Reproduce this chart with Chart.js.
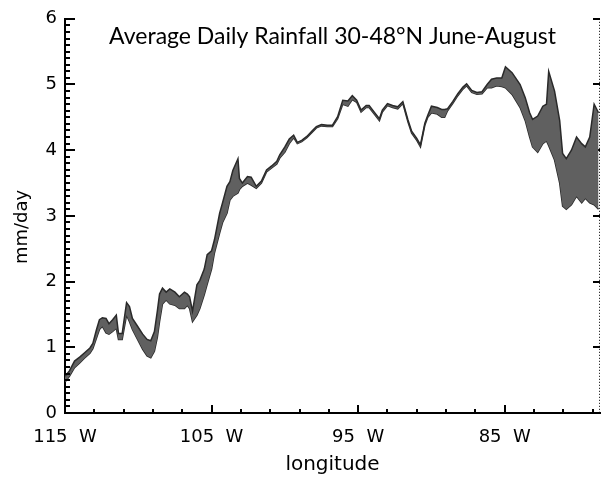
<!DOCTYPE html>
<html lang="en">
<head>
    <meta charset="UTF-8">
    <title>Average Daily Rainfall</title>
    <script src="https://cdn.jsdelivr.net/npm/chart.js"></script>
    <style>
        body {
            margin: 0;
            background: #fff;
        }
        #wrap {
            width: 601px;
            height: 479px;
        }
    </style>
</head>
<body>
    <div id="wrap">
        <canvas id="rainChart" width="601" height="479"></canvas>
    </div>

    <script>
        // longitude (degrees W) and the upper / lower edge of the rainfall band (mm/day)
        let lon = [115.0, 114.7, 114.35, 114.0, 113.7, 113.3, 113.1, 112.85, 112.65, 112.45,
            112.2, 112.0, 111.75, 111.5, 111.35, 111.1, 110.8, 110.6, 110.4, 110.05,
            109.7, 109.4, 109.15, 108.9, 108.7, 108.55, 108.35, 108.1, 107.85, 107.5,
            107.2, 106.85, 106.65, 106.5, 106.3, 106.0, 105.8, 105.5, 105.3, 105.0,
            104.8, 104.45, 104.25, 103.95, 103.75, 103.55, 103.2, 103.1, 102.9, 102.55,
            102.3, 101.95, 101.6, 101.25, 100.9, 100.55, 100.35, 100.0, 99.7, 99.4,
            99.15, 98.85, 98.5, 98.15, 97.85, 97.5, 97.1, 96.75, 96.4, 96.05,
            95.7, 95.4, 95.1, 94.8, 94.45, 94.25, 93.9, 93.55, 93.35, 93.0,
            92.65, 92.3, 91.95, 91.6, 91.35, 91.0, 90.75, 90.45, 90.25, 90.0,
            89.6, 89.3, 89.1, 88.9, 88.55, 88.2, 87.85, 87.6, 87.25, 86.9,
            86.55, 86.2, 85.9, 85.55, 85.2, 84.95, 84.5, 83.95, 83.6, 83.3,
            83.1, 82.75, 82.4, 82.15, 82.0, 81.6, 81.25, 81.05, 80.8, 80.45,
            80.1, 79.75, 79.5, 79.2, 78.9, 78.6];
        let upper = [0.56, 0.64, 0.79, 0.85, 0.91, 0.99, 1.06, 1.27, 1.42, 1.45,
            1.44, 1.36, 1.42, 1.49, 1.21, 1.21, 1.68, 1.62, 1.44, 1.32,
            1.20, 1.12, 1.10, 1.24, 1.55, 1.81, 1.90, 1.84, 1.89, 1.84,
            1.77, 1.84, 1.81, 1.77, 1.55, 1.95, 2.02, 2.19, 2.41, 2.47,
            2.64, 3.04, 3.20, 3.45, 3.52, 3.69, 3.87, 3.57, 3.50, 3.60,
            3.59, 3.45, 3.53, 3.70, 3.76, 3.83, 3.93, 4.05, 4.17, 4.23,
            4.12, 4.15, 4.21, 4.29, 4.36, 4.39, 4.38, 4.38, 4.51, 4.76,
            4.75, 4.83, 4.76, 4.61, 4.68, 4.68, 4.58, 4.48, 4.61, 4.71,
            4.68, 4.66, 4.74, 4.46, 4.29, 4.18, 4.08, 4.41, 4.53, 4.67,
            4.65, 4.62, 4.62, 4.63, 4.74, 4.86, 4.96, 5.01, 4.91, 4.88,
            4.89, 5.00, 5.08, 5.10, 5.10, 5.27, 5.18, 5.00, 4.80, 4.57,
            4.47, 4.52, 4.67, 4.70, 5.20, 4.90, 4.45, 3.95, 3.87, 4.00,
            4.20, 4.10, 4.05, 4.20, 4.70, 4.57];
        let lower = [0.47, 0.56, 0.69, 0.76, 0.83, 0.91, 0.98, 1.14, 1.27, 1.32,
            1.22, 1.20, 1.24, 1.29, 1.12, 1.12, 1.49, 1.39, 1.27, 1.12,
            0.97, 0.87, 0.84, 0.94, 1.15, 1.39, 1.66, 1.72, 1.66, 1.64,
            1.59, 1.59, 1.64, 1.59, 1.39, 1.49, 1.59, 1.80, 1.96, 2.19,
            2.44, 2.74, 2.90, 3.04, 3.24, 3.30, 3.35, 3.40, 3.45, 3.50,
            3.47, 3.42, 3.50, 3.67, 3.73, 3.79, 3.88, 3.97, 4.10, 4.19,
            4.10, 4.13, 4.19, 4.27, 4.34, 4.37, 4.36, 4.36, 4.48, 4.70,
            4.67, 4.77, 4.73, 4.58, 4.65, 4.65, 4.55, 4.45, 4.58, 4.68,
            4.65, 4.63, 4.71, 4.43, 4.26, 4.15, 4.05, 4.38, 4.50, 4.57,
            4.55, 4.50, 4.50, 4.60, 4.71, 4.83, 4.93, 4.98, 4.88, 4.85,
            4.86, 4.95, 4.95, 4.98, 4.97, 4.95, 4.85, 4.65, 4.45, 4.20,
            4.05, 3.97, 4.10, 4.14, 4.07, 3.85, 3.50, 3.15, 3.10, 3.17,
            3.30, 3.20, 3.27, 3.20, 3.17, 3.10];

        let xTicks = [115, 105, 95, 85];
        let yTicks = [0, 1, 2, 3, 4, 5, 6];

        let titleText = "Average Daily Rainfall 30-48\u00B0N June-August";
        let xTitle = "longitude";
        let yTitle = "mm/day";

        // IDL style ticks pointing into the plot, plus the titles
        const axisExtras = {
            id: 'axisExtras',
            beforeDatasetsDraw(chart) {
                const { ctx, chartArea: a, scales: { y } } = chart;
                ctx.save();
                ctx.strokeStyle = '#000';
                ctx.lineWidth = 1;
                ctx.setLineDash([1, 2]);
                ctx.beginPath();
                ctx.moveTo(a.right - 0.5, a.top);
                ctx.lineTo(a.right - 0.5, a.bottom);
                ctx.stroke();
                ctx.setLineDash([]);
                ctx.lineWidth = 2;
                yTicks.forEach(v => {
                    let py = Math.round(y.getPixelForValue(v));
                    ctx.beginPath();
                    ctx.moveTo(a.right, py);
                    ctx.lineTo(a.right - 7, py);
                    ctx.stroke();
                });
                ctx.restore();
            },
            afterDraw(chart) {
                const { ctx, chartArea: a, scales: { x, y } } = chart;
                ctx.save();
                ctx.strokeStyle = '#000';
                ctx.lineWidth = 2;
                for (let i = 0; i <= 60; i++) {
                    let py = Math.round(y.getPixelForValue(i / 10));
                    let len = i % 10 === 0 ? 10 : 5;
                    ctx.beginPath();
                    ctx.moveTo(a.left, py);
                    ctx.lineTo(a.left + len, py);
                    ctx.stroke();
                }
                for (let k = 0; 115 - 2 * k >= x.min; k++) {
                    let px = Math.round(x.getPixelForValue(115 - 2 * k));
                    let len = k % 5 === 0 ? 8 : 4;
                    ctx.beginPath();
                    ctx.moveTo(px, a.bottom);
                    ctx.lineTo(px, a.bottom - len);
                    ctx.stroke();
                }

                ctx.fillStyle = '#000';
                ctx.textAlign = 'center';
                ctx.textBaseline = 'alphabetic';
                ctx.font = '23px Lato';
                ctx.fillText(titleText, (a.left + a.right) / 2, 44);

                ctx.font = '20px "DejaVu Sans"';
                ctx.textBaseline = 'middle';
                ctx.fillText(xTitle, (a.left + a.right) / 2, 465);

                ctx.font = '18px "DejaVu Sans"';
                ctx.translate(22, 227);
                ctx.rotate(-Math.PI / 2);
                ctx.fillText(yTitle, 0, 0);
                ctx.restore();
            }
        };

        let ctx = document.getElementById("rainChart").getContext("2d");
        let chart = new Chart(ctx, {
            type: 'line',
            data: {
                datasets: [{
                    data: lon.map((v, i) => ({ x: v, y: upper[i] })),
                    borderColor: '#2a2a2a',
                    borderWidth: 1.5,
                    backgroundColor: '#606060',
                    fill: '+1',
                    pointRadius: 0,
                    tension: 0
                }, {
                    data: lon.map((v, i) => ({ x: v, y: lower[i] })),
                    borderColor: '#2a2a2a',
                    borderWidth: 1.5,
                    fill: false,
                    pointRadius: 0,
                    tension: 0
                }]
            },
            options: {
                responsive: false,
                animation: false,
                layout: { padding: { top: 13, right: 1, left: 0, bottom: 0 } },
                plugins: {
                    legend: { display: false },
                    tooltip: { enabled: false }
                },
                scales: {
                    x: {
                        type: 'linear',
                        reverse: true,
                        min: 78.5,
                        max: 115,
                        afterFit: s => { s.height = 66; },
                        afterBuildTicks: s => { s.ticks = xTicks.map(v => ({ value: v })); },
                        grid: { display: false, drawTicks: false },
                        border: { display: true, color: '#000', width: 2 },
                        ticks: {
                            autoSkip: false,
                            maxRotation: 0,
                            padding: 14,
                            color: '#000',
                            font: { family: 'DejaVu Sans', size: 18 },
                            callback: v => v + '  W'
                        }
                    },
                    y: {
                        min: 0,
                        max: 6,
                        afterFit: s => { s.width = 65; },
                        afterBuildTicks: s => { s.ticks = yTicks.map(v => ({ value: v })); },
                        grid: { display: false, drawTicks: false },
                        border: { display: true, color: '#000', width: 2 },
                        ticks: {
                            padding: 8,
                            color: '#000',
                            font: { family: 'DejaVu Sans', size: 18 }
                        }
                    }
                }
            },
            plugins: [axisExtras]
        });
    </script>
</body>
</html>
